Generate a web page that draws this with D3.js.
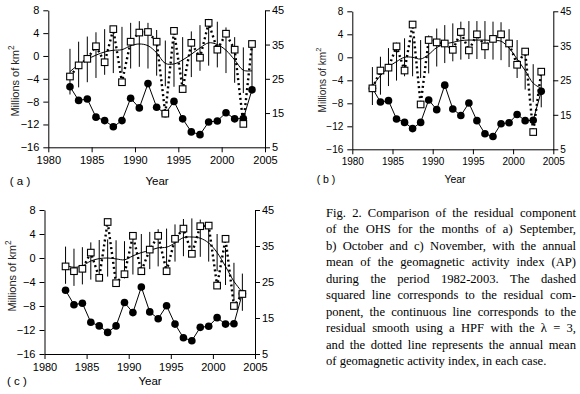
<!DOCTYPE html>
<html><head><meta charset="utf-8">
<script src="https://cdn.jsdelivr.net/npm/d3@7"></script>
<style>body{margin:0;background:#fff}svg{display:block}</style>
</head><body>
<svg id="c" width="580" height="394"></svg>
<script>
// ---- data ----
const years = [1982.5,1983.5,1984.5,1985.5,1986.5,1987.5,1988.5,1989.5,1990.5,1991.5,1992.5,1993.5,1994.5,1995.5,1996.5,1997.5,1998.5,1999.5,2000.5,2001.5,2002.5,2003.5];
const apIndex = [22.7,18.7,19.1,13.8,12.8,11.0,12.8,19.3,16.5,23.6,16.7,14.8,18.4,13.3,9.5,8.7,12.4,12.7,15.1,13.3,13.4,21.8];
const sepResidual = [-3.6,-1.65,-0.5,1.7,-1.1,4.7,-4.6,2.5,4.1,4.2,2.5,-10.1,4.4,-5.8,2.3,-0.3,5.8,1.1,3.9,1.1,-11.9,2.1];
const sepSmooth = [-2.75,-1.5,-0.6,0.15,0.7,1.0,1.1,1.8,2.1,1.8,0.55,-1.3,-1.4,-0.7,0.3,1.4,2.3,2.0,1.0,-0.7,-2.5,-2.6];
const octResidual = [-5.4,-2.3,-1.8,1.9,-2.3,5.7,-8.2,3.0,2.6,2.4,1.3,4.4,1.2,4.0,1.9,3.2,4.0,2.4,-1.3,1.0,-13.0,-2.5];
const octSmooth = [-5.0,-3.2,-1.7,-0.75,0.0,0.0,-0.3,0.5,1.7,2.3,2.6,2.9,3.0,3.0,3.0,2.9,2.8,1.6,-0.3,-2.3,-4.5,-5.4];
const novResidual = [-1.4,-2.2,-1.8,0.9,-3.3,6.0,-4.2,-2.7,3.7,-2.2,1.4,3.7,-2.2,3.2,4.9,0.7,5.3,5.4,-4.6,3.2,-8.0,-6.0];
const novSmooth = [-1.2,-1.55,-1.3,-0.5,-0.1,0.0,-0.15,-0.3,0.35,0.9,1.25,1.7,1.8,2.5,3.4,3.5,3.3,2.5,0.9,-1.4,-3.9,-5.7];
const errHalf = [4.0, 3.3, 3.1];
const panelLabels = ["( a )", "( b )", "( c )"];
const xTicks = [1980,1985,1990,1995,2000,2005];
const yTicks = [-16,-12,-8,-4,0,4,8];
const rTicks = [5,15,25,35,45];
const captionLines = [
 "Fig. 2. Comparison of the residual component",
 "of the OHS for the months of a) September,",
 "b) October and c) November, with the annual",
 "mean of the geomagnetic activity index (AP)",
 "during the period 1982-2003. The dashed",
 "squared line corresponds to the residual com-",
 "ponent, the continuous line corresponds to the",
 "residual smooth using a HPF with the \u03bb = 3,",
 "and the dotted line represents the annual mean",
 "of geomagnetic activity index, in each case."
];

// ---- layout ----
const svg = d3.select("#c");
const SANS = "'Liberation Sans', Arial, sans-serif";
const panels = [
 {res: sepResidual, sm: sepSmooth, err: errHalf[0], lab: panelLabels[0],
  l:48.3, r:265, t:10.3, b:147.3, fs:11, ylx:16, yly:81, yearX:157, yearY:182, labX:20, labY:182},
 {res: octResidual, sm: octSmooth, err: errHalf[1], lab: panelLabels[1],
  l:352.3, r:553.3, t:11.3, b:149.3, fs:10, ylx:323, yly:80, yearX:455, yearY:180, labX:326, labY:180},
 {res: novResidual, sm: novSmooth, err: errHalf[2], lab: panelLabels[2],
  l:44.5, r:255, t:210, b:354, fs:11, ylx:13, yly:276, yearX:150, yearY:382, labX:17, labY:382}
];

panels.forEach(p => {
  const x = d3.scaleLinear().domain([1980,2005]).range([p.l,p.r]);
  const y = d3.scaleLinear().domain([-16,8]).range([p.b,p.t]);
  const y2 = d3.scaleLinear().domain([5,45]).range([p.b,p.t]);
  const g = svg.append("g");

  const styleAxis = sel => {
    sel.selectAll("text").attr("font-family",SANS).attr("font-size",p.fs).attr("fill","#000");
    sel.selectAll("path,line").attr("stroke","#000").attr("stroke-width",1);
  };
  g.append("g").attr("transform",`translate(0,${p.b})`)
    .call(d3.axisBottom(x).tickValues(xTicks).tickFormat(d3.format("d")).tickSize(5).tickSizeOuter(0).tickPadding(4))
    .call(styleAxis);
  g.append("g").attr("transform",`translate(${p.l},0)`)
    .call(d3.axisLeft(y).tickValues(yTicks).tickSize(5).tickSizeOuter(0).tickPadding(4))
    .call(styleAxis);
  g.append("g").attr("transform",`translate(${p.r},0)`)
    .call(d3.axisRight(y2).tickValues(rTicks).tickSize(5).tickSizeOuter(0).tickPadding(2))
    .call(styleAxis);

  // y label
  const yl = g.append("text").attr("transform",`translate(${p.ylx},${p.yly}) rotate(-90)`)
    .attr("text-anchor","middle").attr("dominant-baseline","middle")
    .attr("font-family",SANS).attr("font-size",p.fs).attr("fill","#222");
  yl.append("tspan").text("Millions of km");
  yl.append("tspan").attr("font-size",p.fs*0.75).attr("dy",-4).text("2");
  g.append("text").attr("x",p.yearX).attr("y",p.yearY).attr("text-anchor","middle")
    .attr("dominant-baseline","middle").attr("font-family",SANS).attr("font-size",p.fs+0.5).text("Year");
  g.append("text").attr("x",p.labX).attr("y",p.labY).attr("text-anchor","middle")
    .attr("dominant-baseline","middle").attr("font-family",SANS).attr("font-size",p.fs+0.5)
    .attr("xml:space","preserve").text(p.lab);

  // error bars
  g.selectAll(".eb").data(years).join("line")
    .attr("x1",d=>x(d)).attr("x2",d=>x(d))
    .attr("y1",(d,i)=>y(p.sm[i]+p.err)).attr("y2",(d,i)=>y(p.sm[i]-p.err))
    .attr("stroke","#000").attr("stroke-width",1);

  // AP line + circles
  g.append("path").datum(apIndex)
    .attr("d",d3.line().x((d,i)=>x(years[i])).y(d=>y2(d)))
    .attr("fill","none").attr("stroke","#000").attr("stroke-width",1);
  g.selectAll(".ap").data(apIndex).join("circle")
    .attr("cx",(d,i)=>x(years[i])).attr("cy",d=>y2(d)).attr("r",3.8).attr("fill","#000");

  // smooth
  g.append("path").datum(p.sm)
    .attr("d",d3.line().x((d,i)=>x(years[i])).y(d=>y(d)).curve(d3.curveCatmullRom))
    .attr("fill","none").attr("stroke","#000").attr("stroke-width",1);

  // residual dotted
  g.append("path").datum(p.res)
    .attr("d",d3.line().x((d,i)=>x(years[i])).y(d=>y(d)))
    .attr("fill","none").attr("stroke","#000").attr("stroke-width",2.4).attr("stroke-dasharray","2,3");
  g.selectAll(".sq").data(p.res).join("rect")
    .attr("x",(d,i)=>x(years[i])-3.3).attr("y",d=>y(d)-3.3).attr("width",6.6).attr("height",6.6)
    .attr("fill","#fff").attr("stroke","#000").attr("stroke-width",1.1);
});

// caption (justified)
const capX = 326, capW = 250, capY0 = 216.5, capDy = 16.55;
captionLines.forEach((line,i) => {
  const t = svg.append("text").attr("x",capX).attr("y",capY0+i*capDy)
    .attr("font-family","'Liberation Serif','Times New Roman',serif").attr("font-size",12.6)
    .attr("fill","#000").text(line);
  if (i < captionLines.length-1) {
    const w = t.node().getComputedTextLength();
    const n = line.split(" ").length-1;
    if (n>0) t.attr("word-spacing",(capW-w)/n);
  }
});
</script>
</body></html>
